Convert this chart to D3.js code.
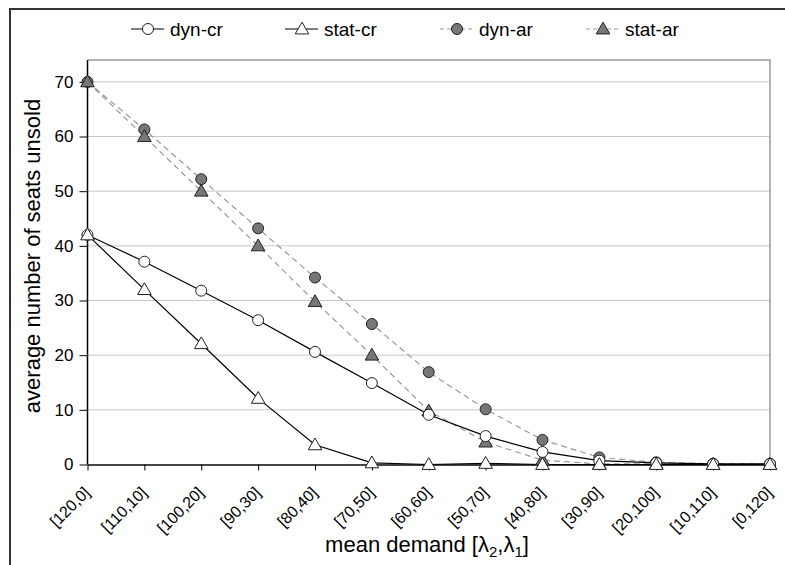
<!DOCTYPE html>
<html><head><meta charset="utf-8">
<script src="https://cdn.jsdelivr.net/npm/d3@7"></script>
<style>body{margin:0;background:#fff}svg{display:block;font-family:"Liberation Sans",Arial,sans-serif}</style>
</head><body><svg id="c" width="785" height="565"></svg>
<script>
const categories = ["[120,0]","[110,10]","[100,20]","[90,30]","[80,40]","[70,50]","[60,60]","[50,70]","[40,80]","[30,90]","[20,100]","[10,110]","[0,120]"];
const dynCr  = [42, 37.1, 31.8, 26.4, 20.6, 14.9, 9.1, 5.2, 2.3, 0.7, 0.3, 0.1, 0.1];
const statCr = [42, 32, 22.1, 12.1, 3.6, 0.3, 0, 0.2, 0, 0, 0, 0, 0];
const dynAr  = [70, 61.3, 52.2, 43.2, 34.2, 25.7, 16.9, 10.1, 4.5, 1.3, 0.4, 0.15, 0.1];
const statAr = [70, 60, 50, 40, 29.8, 20, 9.8, 4.1, 0.8, 0.1, 0.1, 0, 0];
const yTicks = [0,10,20,30,40,50,60,70];

const svg = d3.select("#c");
const L = 87.5, R = 770, T = 60, B = 464.5;
const x = d3.scalePoint().domain(categories).range([L, R]);
const y = d3.scaleLinear().domain([0, 74]).range([B, T]);

// outer frame
svg.append("rect").attr("x",10).attr("y",9).attr("width",790).attr("height",570)
  .attr("fill","none").attr("stroke","#333").attr("stroke-width",2);

// gridlines
svg.append("g").selectAll("line").data(yTicks.filter(d=>d>0)).join("line")
  .attr("x1",L).attr("x2",R).attr("y1",d=>y(d)).attr("y2",d=>y(d))
  .attr("stroke","#c8c8c8").attr("stroke-width",1);
// plot border top/right
svg.append("path").attr("d",`M${L},${T}H${R}V${B}`).attr("fill","none").attr("stroke","#999").attr("stroke-width",1.5);

// y axis
const ya = svg.append("g").attr("transform",`translate(${L},0)`)
  .call(d3.axisLeft(y).tickValues(yTicks).tickSize(8).tickPadding(6));
ya.select(".domain").attr("stroke","#000").attr("stroke-width",1.5).attr("d",`M0,${T}V${B}`);
ya.selectAll(".tick line").attr("stroke","#000");
ya.selectAll("text").attr("font-size",17).attr("fill","#000").attr("font-family","Liberation Sans, Arial, sans-serif");

// x axis
const xa = svg.append("g").attr("transform",`translate(0,${B})`)
  .call(d3.axisBottom(x).tickSize(6).tickSizeOuter(0));
xa.select(".domain").attr("stroke","#444").attr("stroke-width",2);
xa.selectAll(".tick line").attr("stroke","#000");
xa.selectAll("text").attr("font-size",16).attr("fill","#000").attr("font-family","Liberation Sans, Arial, sans-serif")
  .attr("text-anchor","end").attr("dy",null).attr("y",0)
  .attr("transform","translate(3,29) rotate(-45)");

const line = d3.line().x((d,i)=>x(categories[i])).y(d=>y(d));
const series = [
  {name:"dyn-cr", data:dynCr, dash:null, stroke:"#000", marker:"circle", fill:"#fff"},
  {name:"stat-cr", data:statCr, dash:null, stroke:"#000", marker:"triangle", fill:"#fff"},
  {name:"dyn-ar", data:dynAr, dash:"6,4", stroke:"#999", marker:"circle", fill:"#777"},
  {name:"stat-ar", data:statAr, dash:"6,4", stroke:"#999", marker:"triangle", fill:"#777"}
];
const sym = {circle: d3.symbol().type(d3.symbolCircle).size(95)(),
             triangle: d3.symbol().type(d3.symbolTriangle).size(80)()};

// draw lines first (ar then cr), then markers
const order = [2,3,0,1];
order.forEach(k=>{
  const s = series[k];
  svg.append("path").attr("d",line(s.data)).attr("fill","none")
    .attr("stroke",s.stroke).attr("stroke-width",1.2).attr("stroke-dasharray",s.dash);
});
order.forEach(k=>{
  const s = series[k];
  svg.append("g").selectAll("path").data(s.data).join("path")
    .attr("d",sym[s.marker])
    .attr("transform",(d,i)=>`translate(${x(categories[i])},${y(d)+(s.marker==="triangle"?1:0)})`)
    .attr("fill",s.fill).attr("stroke","#222").attr("stroke-width",1);
});

// legend
const legX = [131, 285, 440, 586];
series.forEach((s,i)=>{
  const g = svg.append("g").attr("transform",`translate(${legX[i]},29)`);
  g.append("line").attr("x1",0).attr("x2",33).attr("y1",0).attr("y2",0)
    .attr("stroke",s.stroke).attr("stroke-width",1.2).attr("stroke-dasharray",s.dash?"4,3":null);
  g.append("path").attr("d",sym[s.marker]).attr("transform",`translate(17,${s.marker==="triangle"?1:0})`)
    .attr("fill",s.fill).attr("stroke","#222");
  g.append("text").attr("x",39).attr("y",6.5).attr("font-size",19).text(s.name);
});

// axis titles
svg.append("text").attr("transform","translate(40,256) rotate(-90)").attr("text-anchor","middle")
  .attr("font-size",22).text("average number of seats unsold");
const xt = svg.append("text").attr("x",427).attr("y",552).attr("text-anchor","middle").attr("font-size",22);
xt.append("tspan").text("mean demand [λ");
xt.append("tspan").attr("font-size",15).attr("dy",5).text("2");
xt.append("tspan").attr("dy",-5).text(",λ");
xt.append("tspan").attr("font-size",15).attr("dy",5).text("1");
xt.append("tspan").attr("dy",-5).text("]");
</script></body></html>
